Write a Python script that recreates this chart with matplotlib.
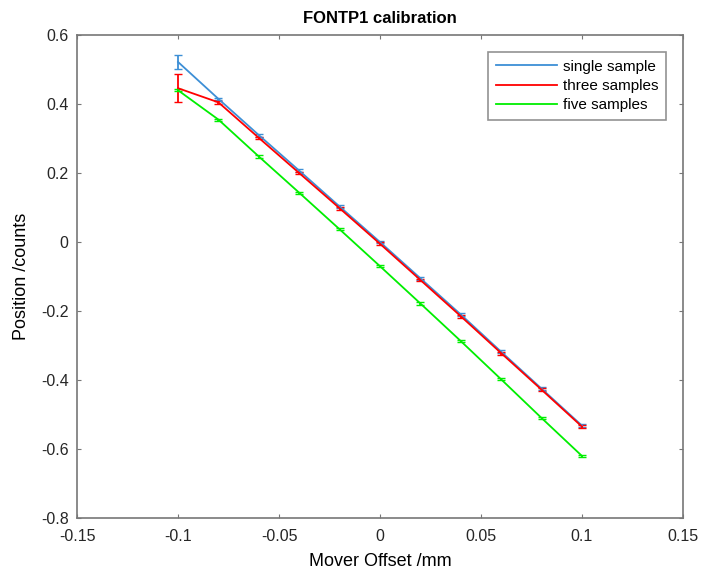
import matplotlib
matplotlib.use("Agg")
import matplotlib.pyplot as plt

plt.rcParams['font.family'] = ['Liberation Sans', 'DejaVu Sans']

offset = [-0.1, -0.08, -0.06, -0.04, -0.02, 0.0, 0.02, 0.04, 0.06, 0.08, 0.1]

single = [0.522, 0.415, 0.310, 0.207, 0.103, 0.000, -0.105, -0.210, -0.318, -0.425, -0.532]
single_err = [0.020, 0.004, 0.004, 0.004, 0.004, 0.004, 0.004, 0.004, 0.004, 0.004, 0.004]

three = [0.446, 0.405, 0.302, 0.200, 0.098, -0.005, -0.110, -0.215, -0.322, -0.428, -0.535]
three_err = [0.040, 0.004, 0.004, 0.004, 0.004, 0.004, 0.004, 0.004, 0.004, 0.004, 0.004]

five = [0.440, 0.355, 0.248, 0.143, 0.037, -0.070, -0.178, -0.287, -0.398, -0.510, -0.620]
five_err = [0.003, 0.003, 0.003, 0.003, 0.003, 0.003, 0.003, 0.003, 0.003, 0.003, 0.003]

fig = plt.figure(figsize=(7.07, 5.75), dpi=100)
ax = fig.add_axes([0.109, 0.099, 0.857, 0.840])

ax.errorbar(offset, single, yerr=single_err, color='#3d8fd6', lw=1.3, capsize=3, label='single sample')
ax.errorbar(offset, three, yerr=three_err, color='#ff0000', lw=1.3, capsize=3, label='three samples')
ax.errorbar(offset, five, yerr=five_err, color='#00ee00', lw=1.3, capsize=3, label='five samples')

ax.set_xlim(-0.15, 0.15)
ax.set_ylim(-0.8, 0.6)
ax.set_xticks([-0.15, -0.1, -0.05, 0, 0.05, 0.1, 0.15])
ax.set_xticklabels(['-0.15', '-0.1', '-0.05', '0', '0.05', '0.1', '0.15'])
ax.set_yticks([-0.8, -0.6, -0.4, -0.2, 0, 0.2, 0.4, 0.6])
ax.set_yticklabels(['-0.8', '-0.6', '-0.4', '-0.2', '0', '0.2', '0.4', '0.6'])

for s in ax.spines.values():
    s.set_color('#777777')
    s.set_linewidth(1.2)
ax.tick_params(direction='in', labelsize=11.5, length=3, top=True, right=True,
               colors='#777777', labelcolor='#262626')
ax.tick_params(axis='x', pad=8)
ax.tick_params(axis='y', pad=6)

ax.set_title('FONTP1 calibration', fontsize=12, fontweight='bold', pad=9)
ax.set_xlabel('Mover Offset /mm', fontsize=13, labelpad=6)
ax.set_ylabel('Position /counts', fontsize=13, labelpad=8)

handles, labels = ax.get_legend_handles_labels()
handles = [h[0] for h in handles]
leg = ax.legend(handles, labels, loc='upper right', fontsize=11, fancybox=False,
                borderaxespad=1.1, handlelength=4.0, handletextpad=0.4,
                labelspacing=0.35, borderpad=0.5)
leg.get_frame().set_edgecolor('#777777')
leg.get_frame().set_linewidth(1.2)

fig.savefig('out.png', dpi=100)
